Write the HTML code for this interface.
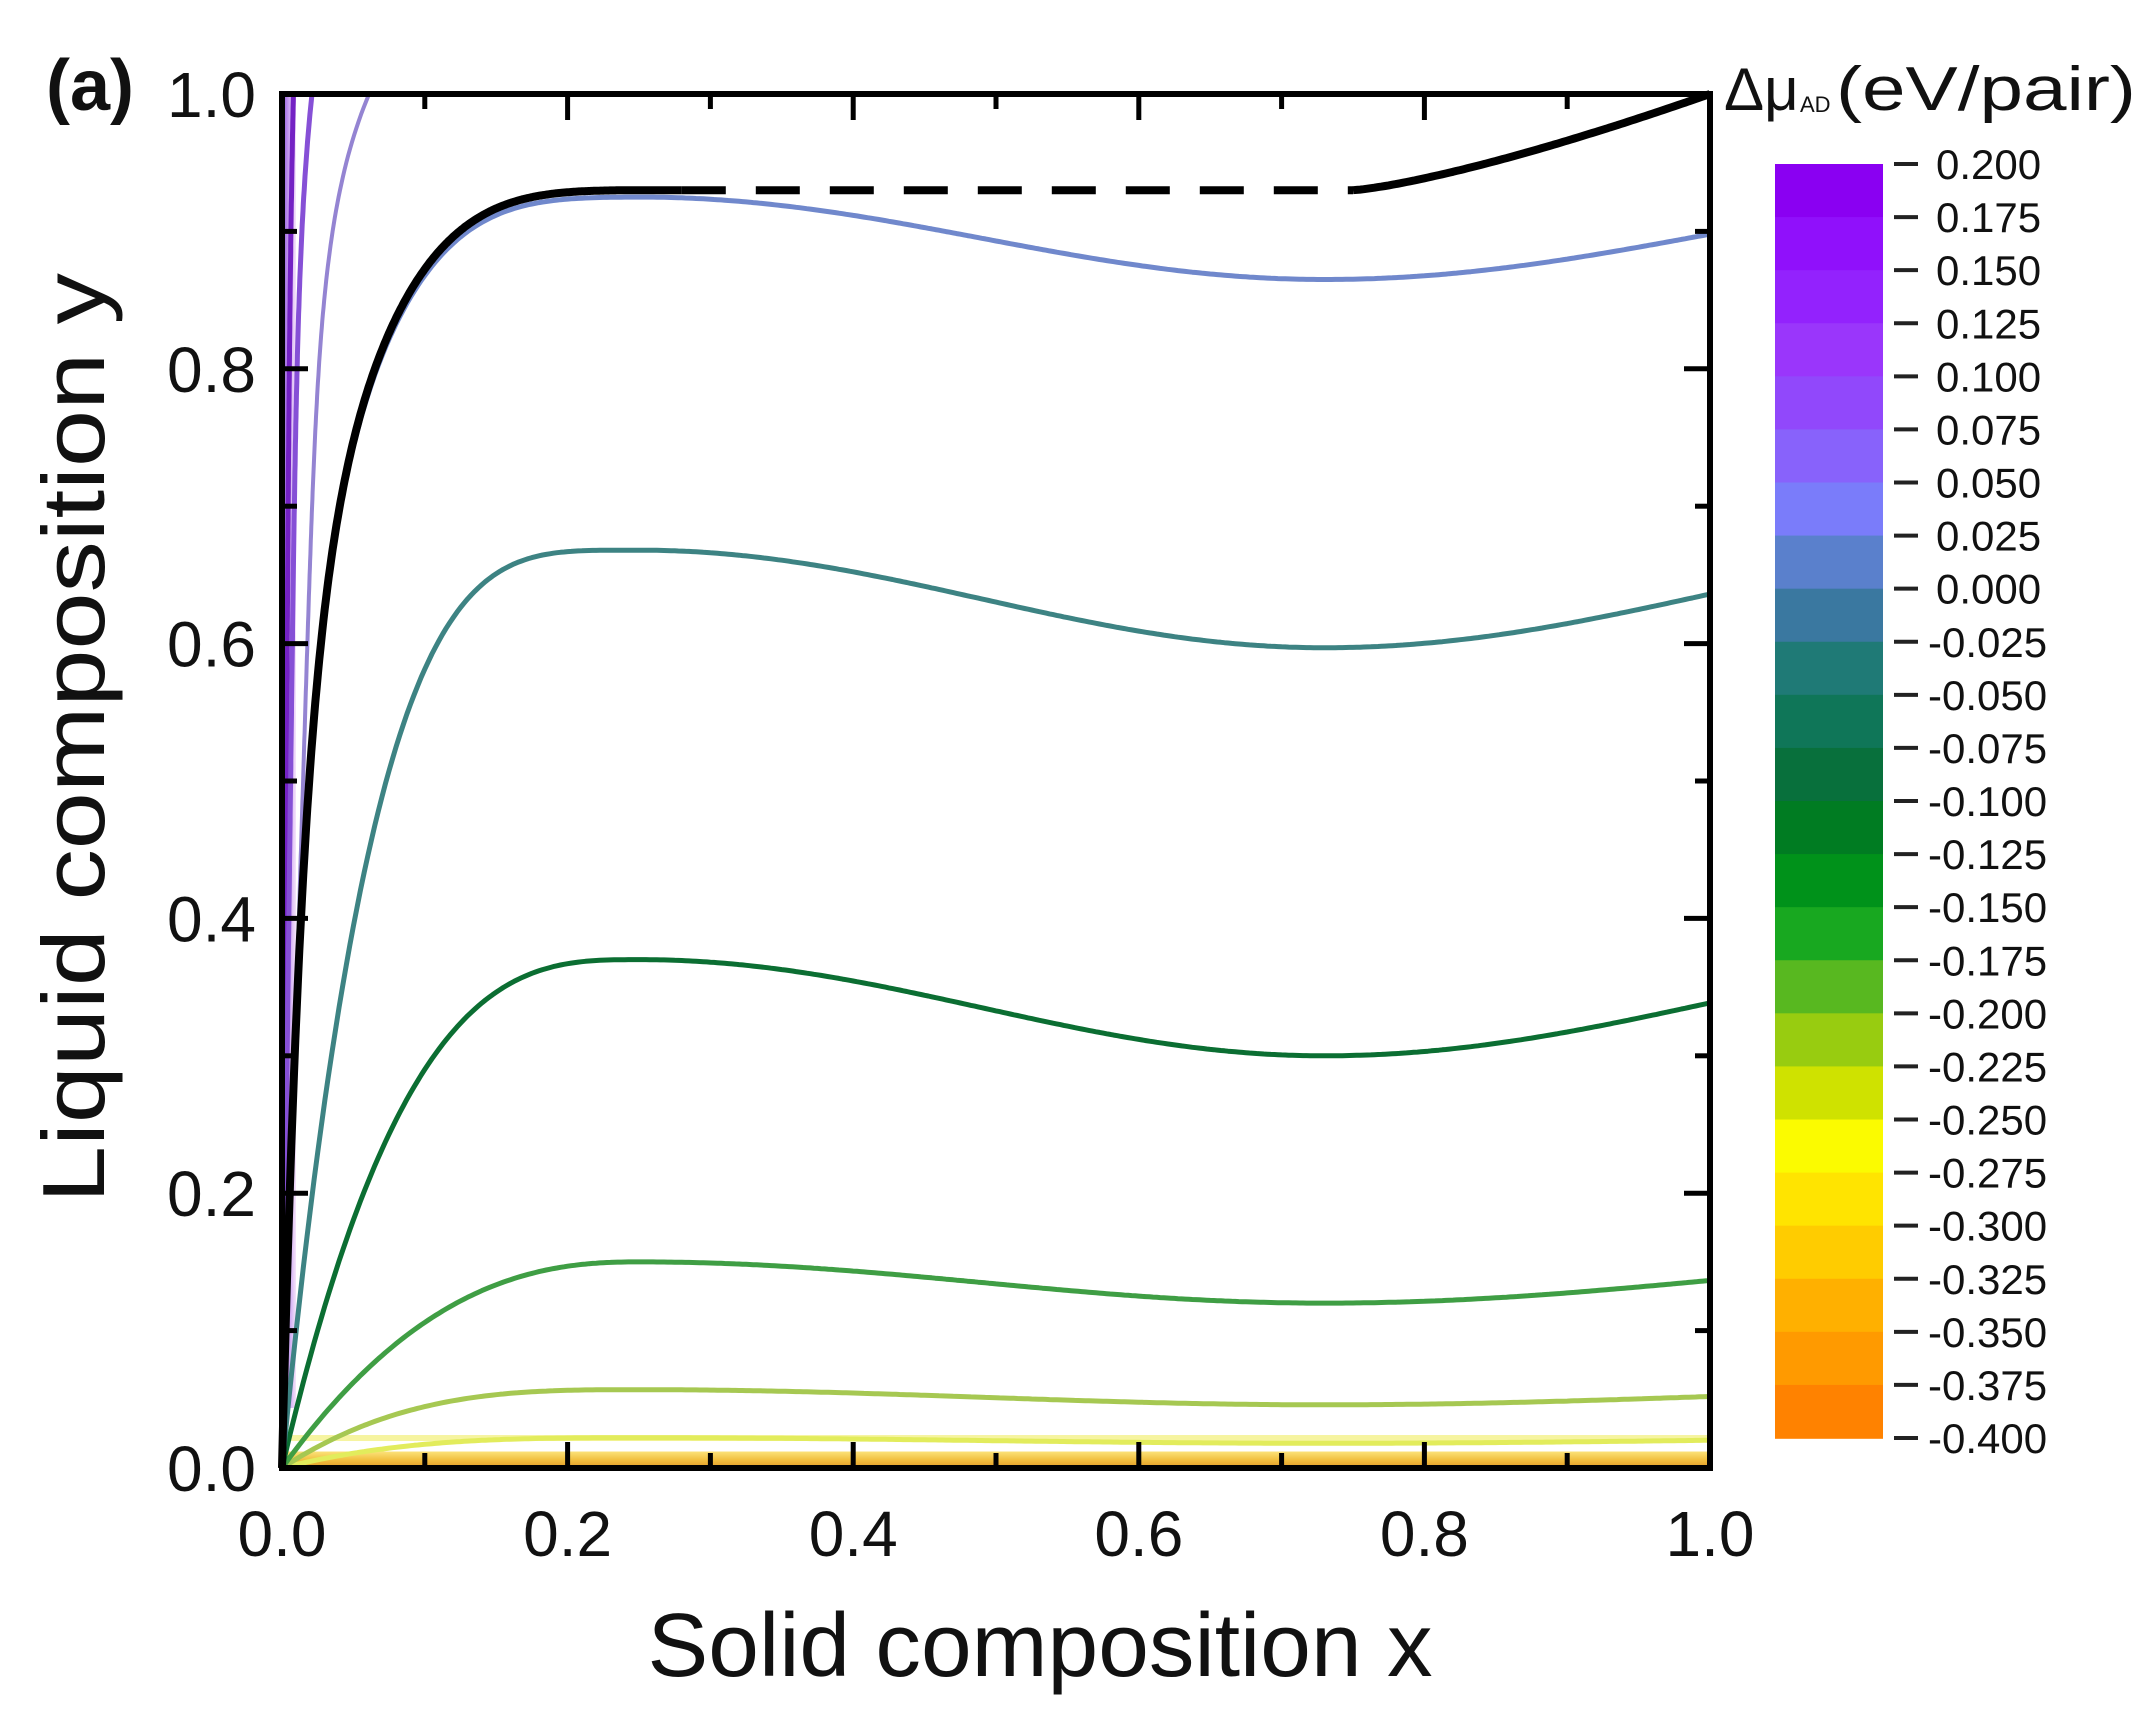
<!DOCTYPE html>
<html><head><meta charset="utf-8">
<style>
html,body{margin:0;padding:0;background:#fff;}
svg{display:block;}
text{font-family:"Liberation Sans",sans-serif;fill:#111;}
</style></head>
<body>
<svg id="s" width="2148" height="1722" viewBox="0 0 2148 1722" xmlns="http://www.w3.org/2000/svg">
<defs>
<linearGradient id="pf" x1="0" x2="1" y1="0" y2="0">
<stop offset="0" stop-color="#8a50d8"/><stop offset="0.5" stop-color="#c8a0f0"/><stop offset="1" stop-color="#f6e4fb"/>
</linearGradient>
<linearGradient id="of" x1="0" x2="0" y1="0" y2="1">
<stop offset="0" stop-color="#fbe27a"/><stop offset="0.5" stop-color="#f2c040"/><stop offset="1" stop-color="#e09a28"/>
</linearGradient>
</defs>
<g id="plot"></g>
<g id="cb"></g>
<text x="46" y="110" font-size="72" font-weight="bold">(a)</text>
<text x="1040" y="1676" font-size="90" text-anchor="middle" textLength="785" lengthAdjust="spacingAndGlyphs">Solid composition x</text>
<text transform="translate(104,738) rotate(-90)" font-size="88" text-anchor="middle" textLength="930" lengthAdjust="spacingAndGlyphs">Liquid composition y</text>
<text x="1724" y="110" font-size="60" font-family="Liberation Serif,serif">Δμ</text>
<text x="1800" y="112" font-size="22">AD</text>
<text x="1836" y="110" font-size="62" textLength="300" lengthAdjust="spacingAndGlyphs">(eV/pair)</text>
</svg>
<script>
(function(){
var NS="http://www.w3.org/2000/svg";
var L=282,R=1710,T=94,B=1468;
function X(x){return L+(R-L)*x;}
function Y(y){return B-(B-T)*y;}
var plot=document.getElementById('plot'), cb=document.getElementById('cb');
function el(p,tag,a,txt){var e=document.createElementNS(NS,tag);for(var k in a)e.setAttribute(k,a[k]);if(txt!==undefined)e.textContent=txt;p.appendChild(e);return e;}
function path(pts,a){var d='M'+pts.map(function(p){return X(p[0]).toFixed(1)+','+Y(p[1]).toFixed(1);}).join(' L');a.d=d;a.fill='none';a['stroke-linejoin']='round';el(plot,'path',a);}
el(plot,'rect',{x:L,y:T,width:14,height:B-T-60,fill:'url(#pf)'});
el(plot,'rect',{x:L,y:Y(0.012),width:R-L,height:Y(0)-Y(0.012),fill:'url(#of)'});
el(plot,'rect',{x:L,y:Y(0.024),width:R-L,height:6,fill:'#f6f4a0'});
function t(x){if(x<=0.25)return 0;if(x<=0.73)return -(1-Math.cos(Math.PI*(x-0.25)/0.48))/2;return -1+1.1*(1-Math.cos(Math.PI*(x-0.73)/0.54))/2;}
function r(x,ws,xp){if(x>=xp)return 1;var s=0;ws.forEach(function(w){s+=w[0]*(1-Math.pow(1-x/xp,w[1]));});return s;}
var curves=[
 [0.022,0.004,[[1,3]],'#e2ec5c',5,0.25],
 [0.057,0.011,[[1,3]],'#a6c852',5,0.25],
 [0.15,0.03,[[1,2.4]],'#3f9e44',5,0.25],
 [0.37,0.07,[[1,3]],'#0b6e32',5,0.25],
 [0.668,0.071,[[1,4]],'#3d8383',5,0.25],
 [0.925,0.06,[[0.55,20],[0.45,4.5]],'#7088cc',5,0.28]
];
curves.forEach(function(c){var pts=[];for(var i=0;i<=400;i++){var x=i/400;var y=c[0]*r(x,c[2],c[5])+c[1]*t(x);pts.push([x,y]);}path(pts,{stroke:c[3],'stroke-width':c[4]});});
function pcurve(a,b,p,col,w){var pts=[];for(var i=0;i<=200;i++){var y=i/200;pts.push([a*y+b*Math.pow(y,p),y]);}path(pts,{stroke:col,'stroke-width':w});}
pcurve(0.006,0.002,8,'#7422c4',5);
pcurve(0.012,0.009,10,'#8650d6',5);
pcurve(0.0295,0.0315,12,'#9484d2',4);
var pts=[];for(var i=0;i<=300;i++){var x=0.28*i/300;pts.push([x,0.93*r(x,[[0.55,20],[0.45,4.5]],0.28)]);}
path(pts,{stroke:'#000','stroke-width':8});
path([[0.28,0.93],[0.75,0.93]],{stroke:'#000','stroke-width':8,'stroke-dasharray':'44 30'});
pts=[];for(var i=0;i<=100;i++){var x=0.75+0.25*i/100;pts.push([x,0.93+0.07*Math.pow((x-0.75)/0.25,1.3)]);}
path(pts,{stroke:'#000','stroke-width':8});
el(plot,'rect',{x:L,y:T,width:R-L,height:B-T,fill:'none',stroke:'#000','stroke-width':6});
for(var i=0;i<=10;i++){var v=i/10,maj=(i%2==0),len=maj?26:15;
 el(plot,'line',{x1:X(v),x2:X(v),y1:B,y2:B-len,stroke:'#000','stroke-width':5});
 el(plot,'line',{x1:X(v),x2:X(v),y1:T,y2:T+len,stroke:'#000','stroke-width':5});
 el(plot,'line',{x1:L,x2:L+len,y1:Y(v),y2:Y(v),stroke:'#000','stroke-width':5});
 el(plot,'line',{x1:R,x2:R-len,y1:Y(v),y2:Y(v),stroke:'#000','stroke-width':5});
 if(maj){var s=v.toFixed(1);
  el(plot,'text',{x:X(v),y:1556,'font-size':64,'text-anchor':'middle'},s);
  el(plot,'text',{x:256,y:Y(v)+23,'font-size':64,'text-anchor':'end'},s);}
}
var cols=['#8a00f2','#9010fb','#9322fd','#9a36fb','#9148fb','#8862fb','#7a7cfa','#5a80cc','#3a78a0','#1f7a76','#0f7658','#08703c','#007c22','#00921a','#18a820','#58b820','#98cc10','#cfe200','#fbfb00','#ffe400','#ffcc00','#ffb000','#ff9a00','#ff8200'];
var cT=164,cB=1438,cL=1775,cR=1883,h=(cB-cT)/24;
cols.forEach(function(c,i){el(cb,'rect',{x:cL,y:(cT+i*h).toFixed(2),width:cR-cL,height:(h+0.8).toFixed(2),fill:c});});
for(var i=0;i<=24;i++){var v=0.2-0.025*i,y=cT+i*h;
 el(cb,'line',{x1:1894,x2:1918,y1:y,y2:y,stroke:'#222','stroke-width':4});
 var s=(Math.abs(v)<1e-9?'0.000':v.toFixed(3));
 el(cb,'text',{x:v<-1e-9?1928:1936,y:y+15,'font-size':42},s);}
})();
</script>
</body></html>
